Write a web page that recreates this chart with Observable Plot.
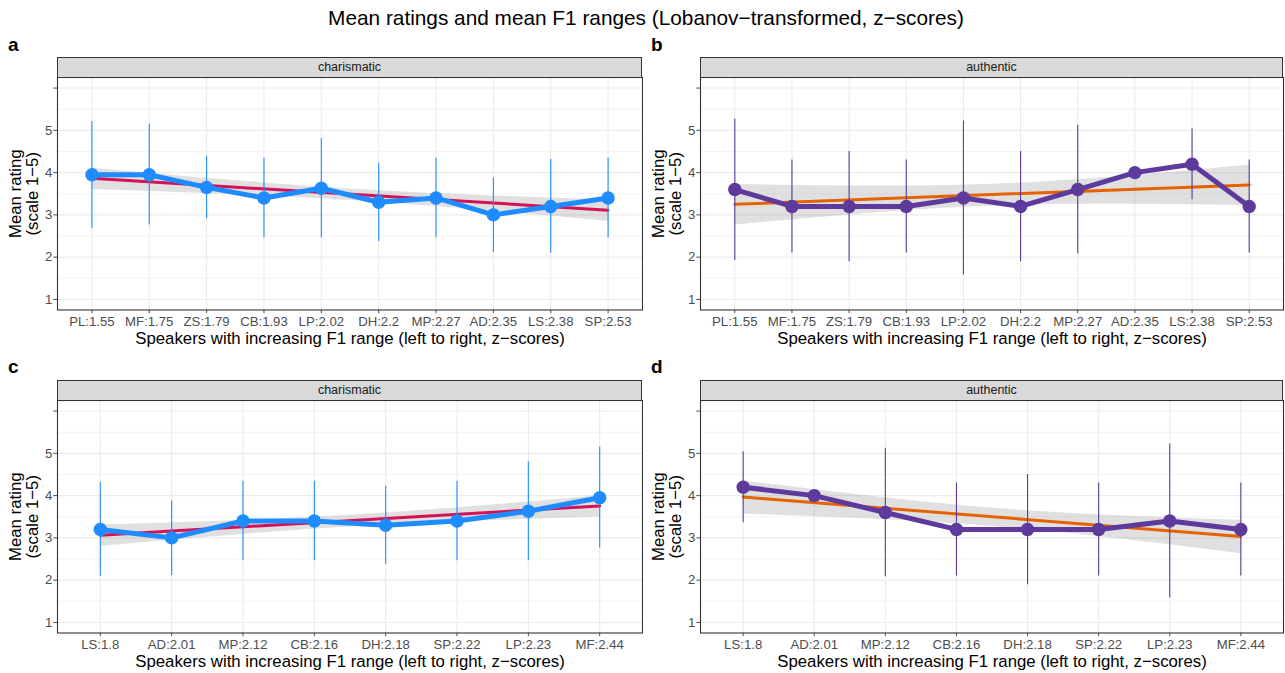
<!DOCTYPE html>
<html>
<head>
<meta charset="utf-8">
<script src="https://cdn.jsdelivr.net/npm/d3@7"></script>
<script src="https://cdn.jsdelivr.net/npm/@observablehq/plot@0.6"></script>
<style>
  body { margin: 0; background: #fff; font-family: "Liberation Sans", Arial, sans-serif; }
  #fig { position: relative; width: 1285px; height: 673px; overflow: hidden; background: #fff; }
  .title { position: absolute; left: 0; width: 1292px; top: 6px; text-align: center; font-size: 20.8px; color: #000; line-height: 24px; }
  .tag { position: absolute; font-weight: bold; font-size: 19px; color: #000; line-height: 22px; }
  .strip { position: absolute; background: #D9D9D9; border: 1.1px solid #333; box-sizing: border-box;
           text-align: center; font-size: 12.5px; color: #1A1A1A; line-height: 18px; }
  .panel { position: absolute; }
</style>
</head>
<body>
<div id="fig">
  <div class="title">Mean ratings and mean F1 ranges (Lobanov−transformed, z−scores)</div>
  <div class="tag" style="left:8px;top:34px">a</div>
  <div class="tag" style="left:651px;top:34px">b</div>
  <div class="tag" style="left:8px;top:356px">c</div>
  <div class="tag" style="left:651px;top:356px">d</div>
</div>
<script>
// ---- data ----
const speakers = ["PL", "MF", "ZS", "CB", "LP", "DH", "MP", "AD", "LS", "SP"];
const charMean = [3.95, 3.95, 3.65, 3.40, 3.63, 3.30, 3.40, 3.00, 3.20, 3.40];
const charLow  = [2.68, 2.76, 2.91, 2.46, 2.46, 2.37, 2.46, 2.11, 2.09, 2.46];
const charHigh = [5.21, 5.15, 4.39, 4.34, 4.80, 4.22, 4.34, 3.87, 4.31, 4.34];
const authMean = [3.60, 3.20, 3.20, 3.20, 3.40, 3.20, 3.60, 4.00, 4.20, 3.20];
const authLow  = [1.92, 2.10, 1.89, 2.10, 1.58, 1.89, 2.08, 4.00, 3.36, 2.10];
const authHigh = [5.27, 4.30, 4.50, 4.30, 5.22, 4.50, 5.12, 4.00, 5.04, 4.30];

// top row: ordered by F1 range (set 1)
const orderTop = ["PL", "MF", "ZS", "CB", "LP", "DH", "MP", "AD", "LS", "SP"];
const f1Top    = ["1.55", "1.75", "1.79", "1.93", "2.02", "2.2", "2.27", "2.35", "2.38", "2.53"];
// bottom row: ordered by F1 range (set 2)
const orderBottom = ["LS", "AD", "MP", "CB", "DH", "SP", "LP", "MF"];
const f1Bottom    = ["1.8", "2.01", "2.12", "2.16", "2.18", "2.22", "2.23", "2.44"];

const yTicks = [1, 2, 3, 4, 5, 6];
const yMinor = [1.5, 2.5, 3.5, 4.5, 5.5];

const xTitle = "Speakers with increasing F1 range (left to right, z−scores)";
const yTitle = "Mean rating\n(scale 1−5)";

const colCharLine = "#1E8CFF", colCharReg = "#D41159";
const colAuthLine = "#5D3A9B", colAuthReg = "#E66100";

function panel(order, f1, mean, low, high, lineColor, regColor, width, marginRight) {
  const n = order.length;
  const rows = order.map((s, i) => {
    const k = speakers.indexOf(s);
    return {i: i + 1, label: s + ":" + f1[i], m: mean[k], lo: low[k], hi: high[k]};
  });
  const idx = d3.range(1, n + 1);
  return Plot.plot({
    width, height: 274,
    marginLeft: 57, marginRight, marginTop: 1, marginBottom: 40.5,
    x: {type: "linear", domain: [0.4, n + 0.6], axis: null},
    y: {domain: [0.75, 6.25], axis: null},
    style: {fontFamily: "Liberation Sans, Arial, sans-serif", fontSize: "13px", background: "white", overflow: "visible"},
    marks: [
      Plot.ruleY(yMinor, {stroke: "#EBEBEB", strokeWidth: 0.6}),
      Plot.ruleY(yTicks, {stroke: "#EBEBEB", strokeWidth: 1.1}),
      Plot.ruleX(idx, {stroke: "#EBEBEB", strokeWidth: 1.1}),
      Plot.linearRegressionY(rows, {x: "i", y: "m", stroke: regColor, strokeWidth: 3, fill: "#999999", fillOpacity: 0.3, ci: 0.95}),
      Plot.ruleX(rows, {x: "i", y1: "lo", y2: "hi", stroke: lineColor, strokeWidth: 1.1}),
      Plot.line(rows, {x: "i", y: "m", stroke: lineColor, strokeWidth: 5, strokeLinejoin: "round"}),
      Plot.dot(rows, {x: "i", y: "m", r: 6.7, fill: lineColor, stroke: null}),
      Plot.frame({stroke: "#333333", strokeWidth: 1.1}),
      Plot.axisX(idx, {tickFormat: d => rows[d - 1].label, tickSize: 3.7, tickPadding: 2.5, fontSize: 13.2, color: "#4D4D4D", label: null}),
      Plot.axisY(yTicks, {tickFormat: d => d === 6 ? "" : String(d), tickSize: 3.7, tickPadding: 1.5, fontSize: 13.2, color: "#4D4D4D", label: null}),
      Plot.text([xTitle], {frameAnchor: "bottom", dy: 28.5, text: d => d, fontSize: 16.8, fill: "black", lineAnchor: "middle", textAnchor: "middle"}),
      Plot.text([yTitle], {frameAnchor: "left", dx: -33, rotate: -90, text: d => d, fontSize: 16.8, lineHeight: 1.0, fill: "black", lineAnchor: "middle", textAnchor: "middle"})
    ]
  });
}

const fig = document.getElementById("fig");
function place(node, left, top) {
  node.classList.add("panel");
  node.style.left = left + "px";
  node.style.top = top + "px";
  fig.appendChild(node);
}
function strip(text, left, top, width) {
  const d = document.createElement("div");
  d.className = "strip";
  d.textContent = text;
  d.style.left = left + "px";
  d.style.top = top + "px";
  d.style.width = width + "px";
  d.style.height = "21px";
  fig.appendChild(d);
}

place(panel(orderTop, f1Top, charMean, charLow, charHigh, colCharLine, colCharReg, 645, 3), 0, 76);
place(panel(orderTop, f1Top, authMean, authLow, authHigh, colAuthLine, colAuthReg, 642, 2), 643, 76);
place(panel(orderBottom, f1Bottom, charMean, charLow, charHigh, colCharLine, colCharReg, 645, 3), 0, 399);
place(panel(orderBottom, f1Bottom, authMean, authLow, authHigh, colAuthLine, colAuthReg, 642, 2), 643, 399);

strip("charismatic", 57, 57, 585);
strip("authentic", 700, 57, 583);
strip("charismatic", 57, 380, 585);
strip("authentic", 700, 380, 583);
</script>
</body>
</html>
